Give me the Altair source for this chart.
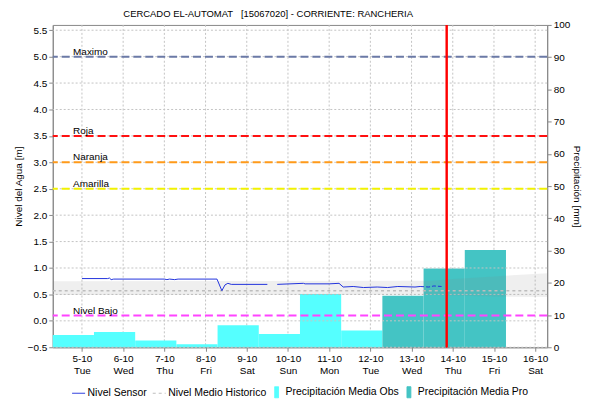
import altair as alt
import pandas as pd

FONT = "Liberation Sans"
TITLE = "CERCADO EL-AUTOMAT\u00a0\u00a0\u00a0[15067020] - CORRIENTE: RANCHERIA"

# ---- axis ticks ----
tick_t = ["2021-10-05T00:00:00", "2021-10-06T00:00:00", "2021-10-07T00:00:00",
          "2021-10-08T00:00:00", "2021-10-09T00:00:00", "2021-10-10T00:00:00",
          "2021-10-11T00:00:00", "2021-10-12T00:00:00", "2021-10-13T00:00:00",
          "2021-10-14T00:00:00", "2021-10-15T00:00:00", "2021-10-16T00:00:00"]
tick_days = [5, 6, 7, 8, 9, 10, 11, 12, 13, 14, 15, 16]
level_ticks = [-0.5, 0.0, 0.5, 1.0, 1.5, 2.0, 2.5, 3.0, 3.5, 4.0, 4.5, 5.0, 5.5]
precip_ticks = [0, 10, 20, 30, 40, 50, 60, 70, 80, 90, 100]

# ---- precipitation (daily 07:00 -> 07:00) ----
bar_start = ["2021-10-04T07:00:00", "2021-10-05T07:00:00", "2021-10-06T07:00:00",
             "2021-10-07T07:00:00", "2021-10-08T07:00:00", "2021-10-09T07:00:00",
             "2021-10-10T07:00:00", "2021-10-11T07:00:00", "2021-10-12T07:00:00",
             "2021-10-13T07:00:00", "2021-10-14T07:00:00"]
bar_end = ["2021-10-05T07:00:00", "2021-10-06T07:00:00", "2021-10-07T07:00:00",
           "2021-10-08T07:00:00", "2021-10-09T07:00:00", "2021-10-10T07:00:00",
           "2021-10-11T07:00:00", "2021-10-12T07:00:00", "2021-10-13T07:00:00",
           "2021-10-14T07:00:00", "2021-10-15T07:00:00"]
bar_mm = [3.8, 4.7, 2.1, 0.9, 6.8, 4.1, 16.5, 5.2, 16.0, 24.4, 30.2]
bar_kind = ["Precipitación Media Obs", "Precipitación Media Obs", "Precipitación Media Obs",
            "Precipitación Media Obs", "Precipitación Media Obs", "Precipitación Media Obs",
            "Precipitación Media Obs", "Precipitación Media Obs", "Precipitación Media Pro",
            "Precipitación Media Pro", "Precipitación Media Pro"]

# ---- sensor level ----
sensor_t = ["2021-10-05T00:00:00", "2021-10-05T15:00:00", "2021-10-05T16:00:00",
            "2021-10-05T17:00:00", "2021-10-05T18:30:00", "2021-10-07T00:00:00",
            "2021-10-07T01:30:00", "2021-10-07T03:00:00", "2021-10-07T06:00:00",
            "2021-10-07T08:00:00", "2021-10-08T06:40:00", "2021-10-08T09:30:00",
            "2021-10-08T11:20:00", "2021-10-08T13:00:00", "2021-10-08T15:00:00",
            "2021-10-09T12:00:00",
            "2021-10-09T17:45:00", "2021-10-10T09:00:00", "2021-10-10T10:00:00",
            "2021-10-11T00:00:00", "2021-10-11T05:45:00", "2021-10-11T08:10:00",
            "2021-10-11T14:00:00", "2021-10-11T20:00:00", "2021-10-12T04:00:00",
            "2021-10-12T10:00:00", "2021-10-12T16:00:00", "2021-10-13T02:00:00",
            "2021-10-13T05:00:00"]
sensor_m = [0.80, 0.80, 0.81, 0.78, 0.79, 0.79,
            0.78, 0.79, 0.78, 0.79, 0.79, 0.57,
            0.68, 0.71, 0.69, 0.69,
            0.69, 0.71, 0.70, 0.70, 0.71, 0.64,
            0.65, 0.63, 0.64, 0.63, 0.65, 0.64, 0.65]
sensor_seg = ["a", "a", "a", "a", "a", "a", "a", "a", "a", "a", "a", "a", "a", "a", "a", "a",
              "b", "b", "b", "b", "b", "b", "b", "b", "b", "b", "b", "b", "b"]

sensor_dash_t = ["2021-10-13T05:00:00", "2021-10-13T10:00:00", "2021-10-13T13:00:00",
                 "2021-10-13T17:30:00"]
sensor_dash_m = [0.65, 0.64, 0.66, 0.65]

# ---- historical band & mean ----
band_t = ["2021-10-04T07:00:00", "2021-10-13T12:00:00", "2021-10-14T00:00:00",
          "2021-10-15T00:00:00", "2021-10-16T07:00:00"]
band_lo = [0.49, 0.49, 0.48, 0.46, 0.45]
band_hi = [0.75, 0.76, 0.79, 0.84, 0.90]
mean_t = ["2021-10-04T07:00:00", "2021-10-16T07:00:00"]
mean_m = [0.57, 0.57]

# ---- thresholds ----
thr_name = ["Maximo", "Roja", "Naranja", "Amarilla", "Nivel Bajo"]
thr_value = [5.0, 3.5, 3.0, 2.5, 0.1]
thr_color = ["#6B7AA6", "#FF1010", "#FF9A1A", "#F2F200", "#FF44FF"]

legend_names = ["Nivel Sensor", "Nivel Medio Historico",
                "Precipitación Media Obs", "Precipitación Media Pro"]
legend_colors = ["#2233DD", "#BDBDBD", "#55FFFF", "#44C4C4"]

bars_df = pd.DataFrame({"start": bar_start, "end": bar_end, "mm": bar_mm, "kind": bar_kind})
sensor_df = pd.DataFrame({"t": sensor_t, "m": sensor_m, "seg": sensor_seg})
sdash_df = pd.DataFrame({"t": sensor_dash_t, "m": sensor_dash_m})
band_df = pd.DataFrame({"t": band_t, "lo": band_lo, "hi": band_hi})
mean_df = pd.DataFrame({"t": mean_t, "m": mean_m})
thr_df = pd.DataFrame({"name": thr_name, "m": thr_value, "color": thr_color})
leg_df = pd.DataFrame({"serie": legend_names})
xgrid_df = pd.DataFrame({"t": tick_t})
ygrid_df = pd.DataFrame({"m": level_ticks})

GRID = "#C4C4C4"
x_scale = alt.Scale(domain=[alt.DateTime(year=2021, month=10, date=4, hours=7),
                            alt.DateTime(year=2021, month=10, date=16, hours=7)])
x_axis = alt.Axis(
    values=[alt.DateTime(year=2021, month=10, date=d) for d in tick_days],
    labelExpr="[timeFormat(datum.value, '%-d-%m'), timeFormat(datum.value, '%a')]",
    title=None, grid=False,
    labelFontSize=10, labelLineHeight=12, labelColor="#000000",
    tickColor="#888888", domainColor="#888888", tickSize=4, labelPadding=2,
)
y_scale = alt.Scale(domain=[-0.5, 5.6], nice=False, zero=False)
y_axis = alt.Axis(
    values=level_ticks, format=".1f", title="Nivel del Agua [m]", grid=False,
    labelFontSize=10, labelColor="#000000",
    titleFontSize=10, titleFontWeight="normal", titleColor="#000000",
    tickColor="#888888", domainColor="#888888", tickSize=4, labelPadding=2, titlePadding=4,
)

xgrid = alt.Chart(xgrid_df).mark_rule(color=GRID, strokeDash=[2, 2], strokeWidth=1).encode(
    x=alt.X("t:T", scale=x_scale, axis=x_axis)
)
bars = alt.Chart(bars_df).mark_bar().encode(
    x=alt.X("start:T", scale=x_scale, axis=x_axis),
    x2="end:T",
    y=alt.Y("mm:Q", scale=alt.Scale(domain=[0, 100], nice=False),
            axis=alt.Axis(orient="right", values=precip_ticks, title="Precipitación [mm]",
                          grid=False, labelFontSize=10, labelColor="#000000",
                          titleFontSize=10, titleFontWeight="normal", titleColor="#000000",
                          tickColor="#888888", domainColor="#888888", tickSize=4,
                          labelPadding=2, titlePadding=2)),
    y2=alt.datum(0),
    color=alt.Color("kind:N", scale=alt.Scale(domain=legend_names[2:], range=legend_colors[2:]),
                    legend=None),
)

ygrid = alt.Chart(ygrid_df).mark_rule(color=GRID, strokeDash=[2, 2], strokeWidth=1).encode(
    y=alt.Y("m:Q", scale=y_scale, axis=y_axis)
)
band = alt.Chart(band_df).mark_area(color="#808080", opacity=0.13).encode(
    x=alt.X("t:T", scale=x_scale, axis=x_axis),
    y=alt.Y("lo:Q", scale=y_scale, axis=y_axis),
    y2="hi:Q",
)
mean = alt.Chart(mean_df).mark_line(color=legend_colors[1], strokeDash=[3, 3], strokeWidth=1.5).encode(
    x=alt.X("t:T", axis=x_axis), y=alt.Y("m:Q", axis=y_axis)
)
rules = alt.Chart(thr_df).mark_rule(strokeDash=[8, 4], strokeWidth=2).encode(
    y=alt.Y("m:Q", axis=y_axis), color=alt.Color("color:N", scale=None)
)
labels = alt.Chart(thr_df).mark_text(align="left", baseline="alphabetic", dy=-2,
                                     fontSize=10, font=FONT, color="#000000").encode(
    x=alt.datum(alt.DateTime(year=2021, month=10, date=4, hours=18, minutes=50)),
    y=alt.Y("m:Q", axis=y_axis), text="name:N",
)
sensor = alt.Chart(sensor_df).mark_line(color=legend_colors[0], strokeWidth=1).encode(
    x=alt.X("t:T", axis=x_axis), y=alt.Y("m:Q", axis=y_axis), detail="seg:N"
)
sensor_dash = alt.Chart(sdash_df).mark_line(color=legend_colors[0], strokeWidth=1,
                                            strokeDash=[4, 2]).encode(
    x=alt.X("t:T", axis=x_axis), y=alt.Y("m:Q", axis=y_axis)
)
now_rule = alt.Chart(thr_df).mark_rule(color="#FF0000", strokeWidth=1.5).encode(
    x=alt.datum(alt.DateTime(year=2021, month=10, date=13, hours=20, minutes=25))
)

SQ = "M-0.3,-0.85L0.3,-0.85L0.3,0.85L-0.3,0.85Z"
leg = alt.Legend(orient="none", legendX=19, legendY=362, direction="horizontal", title=None,
                 symbolSize=169, symbolStrokeWidth=1, labelFontSize=10.5, labelFont=FONT,
                 labelColor="#000000", columnPadding=3, labelOffset=2)
legend_layer = alt.Chart(leg_df).transform_filter("false").mark_point(filled=True, opacity=1).encode(
    stroke=alt.Stroke("serie:N", scale=alt.Scale(domain=legend_names, range=legend_colors), legend=leg),
    fill=alt.Fill("serie:N", scale=alt.Scale(domain=legend_names, range=legend_colors), legend=leg),
    shape=alt.Shape("serie:N", scale=alt.Scale(domain=legend_names,
                                               range=["stroke", "stroke", SQ, SQ]), legend=leg),
    strokeDash=alt.StrokeDash("serie:N", scale=alt.Scale(
        domain=legend_names, range=[[1, 0], [3, 3], [1, 0], [1, 0]]), legend=leg),
)

level = alt.layer(ygrid, band, mean, rules, labels, sensor, sensor_dash, now_rule, legend_layer)
precip = alt.layer(xgrid, bars)

chart = alt.layer(precip, level).resolve_scale(y="independent").properties(
    width=497, height=324,
    padding={"left": 5, "top": 0, "right": 0, "bottom": 0},
    title=alt.TitleParams(TITLE, fontSize=9.5, font=FONT, fontWeight="normal",
                          color="#000000", offset=1, dx=-32),
).configure(font=FONT).configure_view(stroke="#888888").configure_axis(labelFont=FONT, titleFont=FONT)

chart.save("out.html", embed_options={"renderer": "svg", "actions": False})
